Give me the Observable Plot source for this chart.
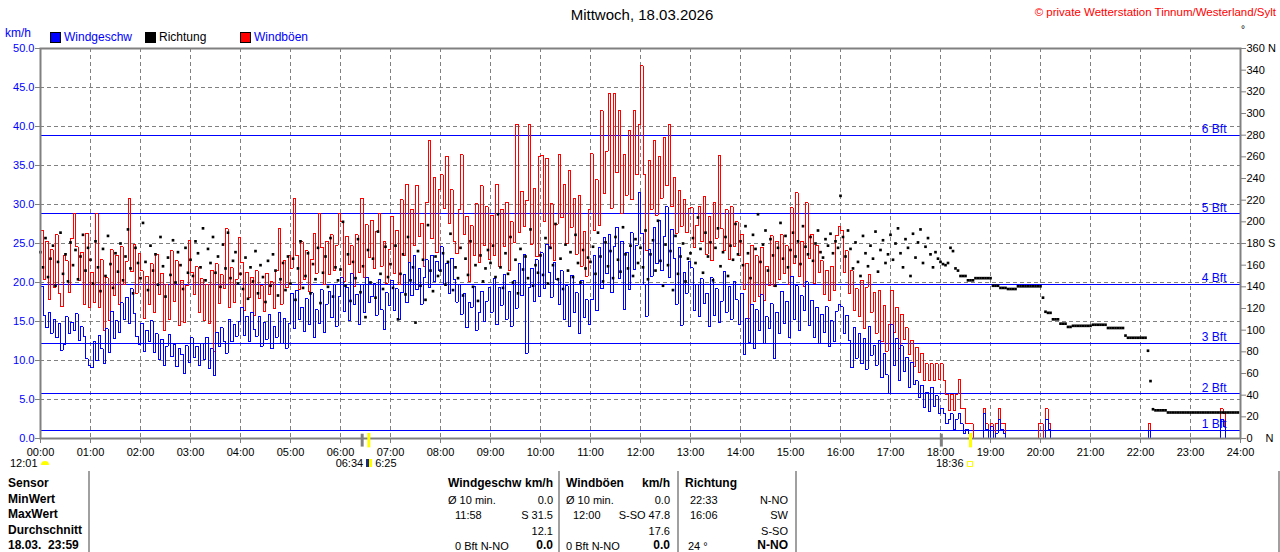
<!DOCTYPE html>
<html><head><meta charset="utf-8">
<script src="https://cdn.jsdelivr.net/npm/d3@7"></script>
<script src="https://cdn.jsdelivr.net/npm/@observablehq/plot@0.6"></script>
<style>
body{margin:0;background:#fff;font-family:"Liberation Sans",Arial,sans-serif;}
#wrap{position:relative;width:1280px;height:552px;overflow:hidden;background:#fff;}
#wrap svg{position:absolute;left:0;top:0;}
.t{position:absolute;white-space:nowrap;font-size:11px;line-height:12px;color:#000;}
.b{font-weight:bold;font-size:12px;line-height:13px;}
.sep{position:absolute;top:471px;height:81px;width:2px;background:#a0a0a0;}
.sq{position:absolute;width:9px;height:9px;border:1px solid #000;}
</style></head><body><div id="wrap"></div>
<script>
// ---- data: 3-minute readings, 00:00 .. 23:57 ----
const speed = [
// 00
19.5,15.8,14.2,16.1,13.5,15.2,12.9,14.8,11.3,12.0,15.6,13.4,14.9,13.8,16.0,12.6,14.3,13.1,10.2,9.4,
// 01
9.1,12.4,10.0,13.2,11.5,9.6,14.1,11.0,16.3,12.8,15.1,13.6,17.4,15.2,18.1,14.7,19.2,16.0,13.1,12.0,
// 02
14.8,11.2,13.9,12.5,15.1,11.0,13.4,10.1,12.7,9.4,11.8,13.3,10.5,12.1,9.2,11.6,10.8,8.3,11.9,9.7,
// 03
12.9,10.4,11.8,9.3,12.2,10.1,13.0,9.0,11.5,8.1,13.6,11.8,14.2,12.5,10.9,15.3,12.4,14.6,13.1,15.0,
// 04
16.8,13.2,15.7,12.4,16.2,14.0,13.1,15.6,11.8,14.9,12.7,15.9,11.5,14.3,13.0,16.1,12.2,15.4,11.6,14.8,
// 05
18.6,14.1,19.0,15.2,16.8,13.7,17.9,14.6,18.7,12.9,16.5,14.8,19.1,13.6,17.2,18.9,15.5,19.8,14.4,18.2,
// 06
20.6,16.3,19.4,15.1,21.1,17.2,18.5,14.6,19.8,16.1,20.7,17.4,18.2,19.9,15.8,20.4,16.5,14.0,18.7,17.0,
// 07
20.3,16.4,19.2,15.3,18.7,21.0,17.4,22.6,18.3,23.4,19.1,21.8,17.2,20.6,22.9,19.3,23.5,20.1,22.7,21.6,
// 08
24.6,19.8,22.5,18.6,23.1,20.4,17.5,19.8,15.9,18.6,14.2,17.4,16.8,19.5,13.9,16.2,18.9,15.0,17.6,19.3,
// 09
16.2,20.5,14.6,19.3,17.1,21.0,15.3,18.8,14.4,20.2,16.7,22.5,18.3,23.6,10.9,19.4,21.8,17.6,22.9,18.2,
// 10
23.8,19.2,24.9,21.3,18.1,22.6,20.4,17.2,21.5,15.3,19.6,14.4,20.9,16.2,18.7,13.4,20.3,15.5,17.8,14.6,
// 11
17.8,23.4,16.4,24.5,19.2,25.8,21.1,26.2,18.7,24.6,27.1,20.5,25.3,16.5,23.9,19.1,26.4,21.7,24.8,31.5,
// 12
26.3,19.7,15.7,24.2,20.8,27.1,22.4,28.0,21.5,25.9,29.7,20.6,26.8,23.1,17.2,24.5,14.5,21.3,18.6,22.7,
// 13
21.9,16.4,19.8,15.7,20.5,17.3,18.6,14.3,20.6,15.8,19.2,14.9,17.6,21.4,16.2,19.5,15.3,20.1,17.8,14.6,
// 14
18.6,10.8,15.4,12.3,17.2,11.6,16.5,13.8,18.4,12.2,15.6,14.1,17.3,10.2,16.2,13.5,18.9,14.7,17.6,13.0,
// 15
20.8,15.2,19.6,13.9,18.3,16.4,20.1,14.5,17.7,13.0,16.8,12.2,15.9,13.6,16.9,11.8,15.1,12.4,16.3,17.2,
// 16
16.9,13.4,15.8,12.6,9.1,14.2,10.3,13.5,9.6,12.8,8.9,14.3,10.7,11.9,9.4,12.6,7.8,10.9,8.2,5.8,
// 17
14.6,9.3,12.8,7.4,11.9,8.6,10.4,6.6,9.8,6.9,7.4,5.2,6.8,4.0,5.9,3.4,6.6,4.1,5.5,3.2,
// 18
3.9,3.2,1.9,2.5,3.2,1.2,2.5,3.2,1.9,0.7,1.2,0.7,0,0,0,0,0,3.2,1.2,0,
// 19
1.5,0,0.7,2.5,1.2,0.7,0,0,0,0,0,0,0,0,0,0,0,0,0,0,
// 20
0,0,2.5,1.2,0,0,0,0,0,0,0,0,0,0,0,0,0,0,0,0,
// 21
0,0,0,0,0,0,0,0,0,0,0,0,0,0,0,0,0,0,0,0,
// 22
0,0,0,1.0,0,0,0,0,0,0,0,0,0,0,0,0,0,0,0,0,
// 23
0,0,0,0,0,0,0,0,0,0,0,0,2.5,1.5,0,0,0,0,0,0
];
const gust = [
// 00
26.7,20.4,25.3,17.8,24.2,19.4,26.1,18.6,16.9,23.5,22.8,18.7,25.6,28.8,24.6,20.3,23.9,17.2,26.3,16.8,
// 01
21.3,17.5,28.8,16.8,22.9,13.9,20.6,15.1,24.2,18.3,23.5,17.2,24.6,19.8,22.7,30.8,21.4,24.9,18.6,23.7,
// 02
21.5,15.4,20.8,17.2,22.4,16.1,23.6,18.5,21.2,13.8,19.7,15.3,24.1,17.6,22.8,14.5,20.3,14.9,19.6,25.4,
// 03
21.3,18.4,22.0,16.2,20.5,15.1,19.8,14.7,21.6,11.2,22.4,17.3,21.0,19.2,26.9,16.8,21.9,17.5,20.4,25.8,
// 04
22.6,16.4,21.3,18.1,20.7,15.8,21.5,17.9,19.6,16.3,21.2,18.5,20.1,16.7,21.5,26.9,17.2,22.8,19.3,23.5,
// 05
21.8,30.8,23.5,19.1,25.2,20.4,24.1,18.8,22.9,26.3,21.2,28.8,24.5,19.7,25.3,21.0,26.1,21.6,24.8,28.8,
// 06
27.8,20.1,25.9,22.3,24.7,19.5,26.1,21.3,30.8,20.6,27.4,23.2,28.0,21.8,26.5,28.8,22.1,25.3,19.9,24.2,
// 07
28.5,21.2,26.7,19.8,30.6,23.4,32.6,22.6,29.4,24.8,32.5,25.9,27.6,22.1,30.2,38.2,25.6,33.4,23.8,31.9,
// 08
33.8,29.5,36.2,27.6,31.9,25.2,23.7,29.3,36.4,26.2,28.5,20.1,27.3,23.4,30.1,22.6,32.4,24.8,29.7,22.9,
// 09
28.6,23.4,32.6,22.1,29.4,24.6,30.3,21.5,27.8,25.1,40.3,26.4,31.7,27.2,30.5,40.3,24.9,32.1,23.3,36.2,
// 10
36.3,27.8,35.9,24.6,30.1,22.8,27.5,36.4,28.3,32.6,25.0,34.4,27.1,30.8,23.6,31.2,22.1,26.5,20.8,29.3,
// 11
36.5,26.7,33.2,27.3,42.0,31.4,36.8,44.2,29.5,44.2,34.1,42.0,28.9,36.4,31.2,39.5,30.6,42.1,33.8,40.2,
// 12
47.8,33.9,24.1,35.6,29.4,38.2,28.6,36.1,30.8,38.6,32.4,40.3,29.7,33.5,26.3,31.8,27.2,30.6,26.4,29.5,
// 13
29.6,24.5,27.3,29.8,25.2,31.0,23.6,28.4,22.8,30.2,25.7,36.3,26.9,24.1,29.3,22.9,29.7,24.6,27.8,23.5,
// 14
26.2,19.1,22.5,15.4,24.8,17.6,23.4,18.2,24.5,17.7,22.1,19.6,26.0,19.5,25.3,20.4,26.1,21.2,24.7,19.8,
// 15
29.6,22.4,31.5,20.8,25.3,19.5,30.2,23.1,26.2,19.9,24.8,21.3,22.8,18.4,21.6,17.7,22.1,19.0,26.0,27.2,
// 16
26.7,21.3,24.1,18.6,21.5,16.4,19.2,15.6,20.3,14.1,19.4,21.0,16.2,18.7,13.5,19.0,12.4,17.1,11.2,14.6,
// 17
19.0,13.6,16.8,11.5,15.9,12.7,14.2,10.8,12.6,9.2,11.7,8.5,10.9,7.4,9.6,7.4,9.6,7.4,9.6,7.6,
// 18
9.6,7.4,5.7,3.6,5.7,3.6,5.7,7.6,3.8,3.8,1.9,1.9,1.9,0,0,0,0,3.8,1.9,0,
// 19
1.9,0,1.9,3.8,1.9,1.9,0,0,0,0,0,0,0,0,0,0,0,0,0,1.9,
// 20
1.9,0,3.8,1.9,0,0,0,0,0,0,0,0,0,0,0,0,0,0,0,0,
// 21
0,0,0,0,0,0,0,0,0,0,0,0,0,0,0,0,0,0,0,0,
// 22
0,0,0,1.9,0,0,0,0,0,0,0,0,0,0,0,0,0,0,0,0,
// 23
0,0,0,0,0,0,0,0,0,0,0,0,3.8,3.2,0,0,0,0,0,0
];
const direction = [
// 00
172,158,185,149,166,178,141,163,190,152,170,145,181,160,174,147,168,188,155,176,
// 01
165,143,182,158,136,175,150,187,161,139,171,154,180,146,168,193,157,134,176,162,
// 02
148,199,163,137,178,155,170,142,186,159,131,167,151,183,144,172,160,138,176,153,
// 03
165,150,182,171,158,194,146,175,162,186,153,168,140,179,157,190,148,164,172,143,
// 04
152,138,167,129,158,145,173,134,160,149,126,164,141,170,155,132,147,162,137,168,
// 05
143,166,128,157,182,139,150,171,134,161,147,176,125,153,168,140,185,131,158,146,
// 06
156,200,141,170,127,163,148,184,135,159,112,174,144,166,130,191,152,138,177,149,
// 07
161,139,178,110,152,170,133,186,146,158,107,173,141,165,128,197,155,136,168,150,
// 08
155,171,142,163,189,137,158,148,176,132,166,151,182,140,160,127,169,145,157,174,
// 09
162,178,149,207,158,139,171,152,186,144,165,134,175,156,168,148,193,141,160,153,
// 10
169,151,185,143,176,160,198,147,166,138,179,155,172,149,188,162,144,174,157,167,
// 11
163,177,152,190,168,145,181,159,173,148,186,165,154,195,170,157,178,150,184,162,
// 12
176,158,192,147,170,183,155,201,164,141,179,160,173,137,187,152,168,180,145,166,
// 13
171,185,162,204,175,153,190,168,181,146,176,194,159,172,186,150,178,165,198,170,
// 14
182,160,196,171,148,188,175,207,163,179,192,155,184,169,141,176,199,166,187,158,
// 15
174,190,168,182,161,196,177,170,186,164,180,192,172,167,184,178,189,171,182,176,
// 16
224,186,168,192,175,157,181,163,150,187,171,159,178,166,191,154,174,183,162,170,
// 17
188,165,180,194,171,158,184,176,150,189,167,181,193,162,177,185,170,158,172,166,
// 18
163,161,160,162,176,173,157,155,150,150,150,146,146,146,148,148,148,148,148,148,
// 19
148,141,141,141,139,139,139,138,138,138,138,140.5,140.5,140.5,140.5,140.5,140.5,140.5,140.5,140.5,
// 20
140.5,130,117,116,116,110,110,110,106,106,106,103,103,104,104,104,104,104,104,104,
// 21
104,105,105,105,105,105,105,102,102,102,102,102,102,102,95,93,93,93,93,93,
// 22
93,93,93,81,53,27,26,26,26,26,26,24,24,24,24,24,24,24,24,24,
// 23
24,24,24,24,24,24,24,24,24,24,24,24,24,24,24,24,24,24,24,24
];
const hourTicks = d3.range(0, 25);
const speedTicks = d3.range(0, 51, 5);
const dirTicks = d3.range(0, 361, 20);
const dirNames = {180: "180 S", 360: "360 N"};
const bftKmh = [1.08, 5.76, 12.24, 19.8, 28.8, 38.88];
const bftLabels = ["1 Bft", "2 Bft", "3 Bft", "4 Bft", "5 Bft", "6 Bft"];
const moonRise = 6 + 26/60, sunRise = 6 + 34/60, moonSet = 18 + 1/60, sunSet = 18 + 36/60;
const moonLabel = "12:01", sunRiseLabel = "06:34", moonRiseLabel = "6:25", sunSetLabel = "18:36";
const stats = {
  speed: {title: "Windgeschw", min10: "0.0", maxTime: "11:58", max: "S 31.5", avg: "12.1", now: "0 Bft N-NO", nowVal: "0.0"},
  gust: {title: "Windböen", min10: "0.0", maxTime: "12:00", max: "S-SO 47.8", avg: "17.6", now: "0 Bft N-NO", nowVal: "0.0"},
  dir: {title: "Richtung", minTime: "22:33", min: "N-NO", maxTime: "16:06", max: "SW", avg: "S-SO", now: "24 °", nowVal: "N-NO"}
};

const BLUE = "#0000ff", RED = "#ff0000", GRAY = "#808080";
const idx = d3.range(speed.length);
const tOf = i => i * 3 / 60;
const pad = h => String(h).padStart(2, "0") + ":00";
const labelRow = () => -3.2; // km/h position just below the time axis labels

const sunText = (time, text, anchor, dx) =>
  Plot.text([text], {x: () => time, y: labelRow, text: d => d, textAnchor: anchor, dx, lineAnchor: "middle", fill: "#000"});

const chart = Plot.plot({
  width: 1280, height: 470,
  marginLeft: 40, marginRight: 40, marginTop: 48, marginBottom: 32,
  style: {fontFamily: "'Liberation Sans', Arial, sans-serif", fontSize: "11px", background: "transparent", overflow: "visible"},
  x: {domain: [0, 24]},
  y: {domain: [0, 50]},
  marks: [
    Plot.gridY(d3.range(5, 50, 5), {stroke: GRAY, strokeOpacity: 1, strokeDasharray: "4,3", shapeRendering: "crispEdges"}),
    Plot.gridX(d3.range(1, 24), {stroke: GRAY, strokeOpacity: 1, strokeDasharray: "4,3", shapeRendering: "crispEdges"}),
    Plot.ruleY(bftKmh, {stroke: BLUE, strokeWidth: 1, shapeRendering: "crispEdges"}),
    Plot.line(idx, {x: tOf, y: i => gust[i], curve: "step-after", stroke: RED, strokeWidth: 1, shapeRendering: "crispEdges"}),
    Plot.line(idx, {x: tOf, y: i => speed[i], curve: "step-after", stroke: BLUE, strokeWidth: 1, shapeRendering: "crispEdges"}),
    Plot.dot(idx, {x: tOf, y: i => direction[i] * 50 / 360, symbol: "square", r: 1.5, fill: "#000", stroke: null}),
    Plot.text(bftKmh, {x: () => 24, y: d => d, text: (d, i) => bftLabels[i], dx: -14, dy: -2, textAnchor: "end", lineAnchor: "bottom", fill: BLUE, fontSize: 12}),
    Plot.frame({stroke: GRAY, strokeWidth: 2}),
    Plot.axisX(hourTicks, {tickSize: 5, tickPadding: 5, stroke: GRAY, fill: "#000", tickFormat: pad, label: null}),
    Plot.axisY(speedTicks, {anchor: "left", tickSize: 5, tickPadding: 1, stroke: GRAY, fill: BLUE, tickFormat: v => v.toFixed(1), label: null}),
    Plot.axisY(dirTicks.map(d => d * 50 / 360), {anchor: "right", tickSize: 5, tickPadding: 1, stroke: GRAY, fill: "#000",
      tickFormat: v => { const d = Math.round(v * 360 / 50); return dirNames[d] || String(d); }, label: null}),
    Plot.text(["N"], {x: () => 24, y: () => 0, text: d => d, dx: 25, textAnchor: "start", fill: "#000"}),
    Plot.ruleX([moonRise, moonSet], {x: d => d, y1: 0.55, y2: -1.1, stroke: GRAY, strokeWidth: 3}),
    Plot.ruleX([sunRise, sunSet], {x: d => d, y1: 0.65, y2: -1.2, stroke: "#ffff00", strokeWidth: 3}),
    sunText(0, moonLabel, "end", -3),
    sunText(moonRise, sunRiseLabel, "end", 1),
    sunText(moonRise, moonRiseLabel, "start", 13),
    sunText(sunSet, sunSetLabel, "end", -7)
  ]
});

const wrap = document.getElementById("wrap");
wrap.appendChild(chart);
const xs = chart.scale("x");

function add(html, style, cls = "t") {
  const d = document.createElement("div");
  d.className = cls;
  d.innerHTML = html;
  Object.assign(d.style, style);
  wrap.appendChild(d);
  return d;
}
// header
add("Mittwoch, 18.03.2026", {left: "0px", width: "1284px", textAlign: "center", top: "6px", fontSize: "15px", lineHeight: "18px"});
add("© private Wetterstation Tinnum/Westerland/Sylt", {right: "4px", top: "6px", color: RED, fontSize: "11.5px"});
add("km/h", {left: "5px", top: "27px", color: BLUE, fontSize: "12px"});
add("°", {left: "1241px", top: "24px", fontSize: "10px"});
// legend
const legend = [["Windgeschw", BLUE, BLUE, 50], ["Richtung", "#000", "#000", 145], ["Windböen", RED, BLUE, 240]];
for (const [name, col, txt, x] of legend) {
  add("", {left: x + "px", top: "32px", background: col}, "sq");
  add(name, {left: (x + 14) + "px", top: "31px", color: txt, fontSize: "12px"});
}
// sun / moon icons
add("", {left: (xs.apply(0) + 1) + "px", top: "461px", width: "8px", height: "4px", background: "#ffff00", borderRadius: "4px 4px 0 0"}, "t");
add("", {left: (xs.apply(moonRise) + 4) + "px", top: "459px", width: "3px", height: "8px", background: "#1a2a80", borderRight: "3px solid #ffff00"}, "t");
add("", {left: (xs.apply(sunSet) - 3) + "px", top: "461px", width: "4px", height: "4px", border: "1px solid #ffff00"}, "t");

// table
for (const x of [88, 558, 677, 795, 1278]) add("", {left: x + "px"}, "sep");
const rowY = [477, 492.5, 508, 523.5, 538.5];
["Sensor", "MinWert", "MaxWert", "Durchschnitt", "18.03.&nbsp;&nbsp;23:59"].forEach((s, i) => add(s, {left: "8px", top: rowY[i] + "px"}, "t b"));
const R = (x) => (1280 - x) + "px";
const t = (s, left, row, bold) => add(s, {left: left + "px", top: (rowY[row] + (bold ? 0 : 1)) + "px"}, bold ? "t b" : "t");
const r = (s, right, row, bold) => add(s, {right: R(right), top: (rowY[row] + (bold ? 0 : 1)) + "px"}, bold ? "t b" : "t");
// speed column
t(stats.speed.title, 448, 0, true); r("km/h", 553, 0, true);
t("Ø 10 min.", 448, 1); r(stats.speed.min10, 553, 1);
t(stats.speed.maxTime, 455, 2); r(stats.speed.max, 553, 2);
r(stats.speed.avg, 553, 3);
t(stats.speed.now, 455, 4); r(stats.speed.nowVal, 553, 4, true);
// gust column
t(stats.gust.title, 566, 0, true); r("km/h", 670, 0, true);
t("Ø 10 min.", 566, 1); r(stats.gust.min10, 670, 1);
t(stats.gust.maxTime, 573, 2); r(stats.gust.max, 670, 2);
r(stats.gust.avg, 670, 3);
t(stats.gust.now, 566, 4); r(stats.gust.nowVal, 670, 4, true);
// direction column
t(stats.dir.title, 685, 0, true);
t(stats.dir.minTime, 690, 1); r(stats.dir.min, 788, 1);
t(stats.dir.maxTime, 690, 2); r(stats.dir.max, 788, 2);
r(stats.dir.avg, 788, 3);
t(stats.dir.now, 688, 4); r(stats.dir.nowVal, 788, 4, true);
</script></body></html>
